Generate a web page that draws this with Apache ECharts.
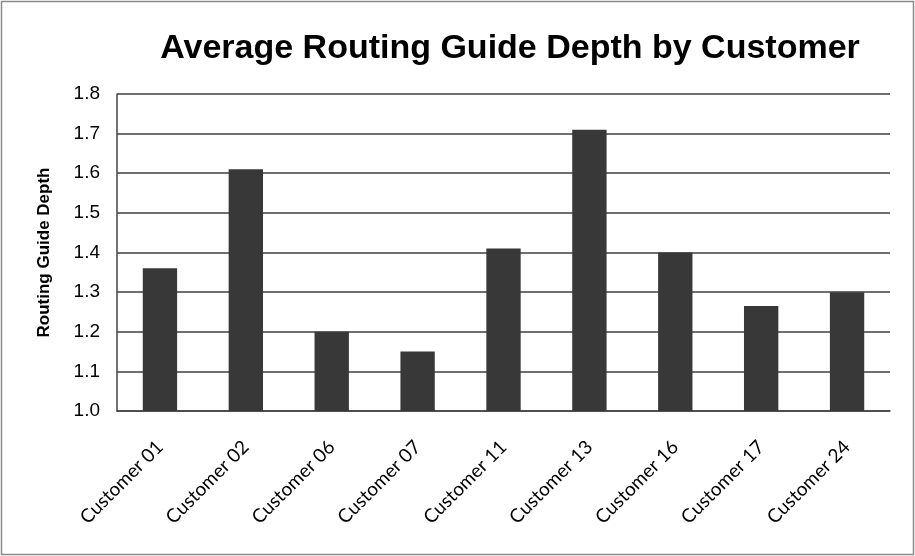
<!DOCTYPE html>
<html>
<head>
<meta charset="utf-8">
<script src="https://cdn.jsdelivr.net/npm/echarts@6/dist/echarts.min.js"></script>
<style>
  html, body { margin: 0; padding: 0; background: #fff; }
  #chart { width: 915px; height: 556px; }
</style>
</head>
<body>
<div id="chart"></div>
<script>
// Average routing guide depth per customer
const customers = ['Customer 01', 'Customer 02', 'Customer 06', 'Customer 07', 'Customer 11',
                   'Customer 13', 'Customer 16', 'Customer 17', 'Customer 24'];
const depth = [1.36, 1.61, 1.20, 1.15, 1.41, 1.71, 1.40, 1.265, 1.30];
const yTicks = { min: 1.0, max: 1.8, step: 0.1 };

const chart = echarts.init(document.getElementById('chart'), null, { renderer: 'canvas' });

chart.setOption({
  backgroundColor: '#ffffff',
  animation: false,
  title: {
    text: 'Average Routing Guide Depth by Customer',
    left: 505,
    textAlign: 'center',
    top: 27,
    textStyle: {
      fontFamily: 'Liberation Sans, Arial, sans-serif',
      fontWeight: 'bold',
      fontSize: 34,
      color: '#000'
    }
  },
  graphic: [{
    type: 'rect',
    shape: { x: 1.5, y: 1.5, width: 912, height: 553 },
    style: { fill: 'none', stroke: '#8a8a8a', lineWidth: 1.5 },
    silent: true
  }],
  grid: { left: 117, right: 25, top: 94, bottom: 145 },
  xAxis: {
    type: 'category',
    data: customers,
    axisLine: { show: true, lineStyle: { color: '#444', width: 1.5 } },
    axisTick: { show: false },
    axisLabel: {
      rotate: 45,
      interval: 0,
      margin: 33,
      fontFamily: 'Lato, "Open Sans", sans-serif',
      fontSize: 19,
      color: '#000'
    }
  },
  yAxis: {
    type: 'value',
    min: yTicks.min,
    max: yTicks.max,
    interval: yTicks.step,
    name: 'Routing Guide Depth',
    nameLocation: 'middle',
    nameGap: 64,
    nameTextStyle: {
      fontFamily: 'Liberation Sans, Arial, sans-serif',
      fontWeight: 'bold',
      fontSize: 17,
      color: '#000'
    },
    axisLine: { show: true, lineStyle: { color: '#444', width: 1.5 } },
    axisTick: { show: false },
    axisLabel: {
      margin: 17,
      formatter: v => v.toFixed(1),
      fontFamily: 'Liberation Sans, Arial, sans-serif',
      fontSize: 19,
      color: '#000'
    },
    splitLine: { show: true, lineStyle: { color: '#3f3f3f', width: 1.6 } }
  },
  series: [{
    type: 'bar',
    data: depth,
    barWidth: '40%',
    itemStyle: { color: '#383838' }
  }]
});
</script>
</body>
</html>
